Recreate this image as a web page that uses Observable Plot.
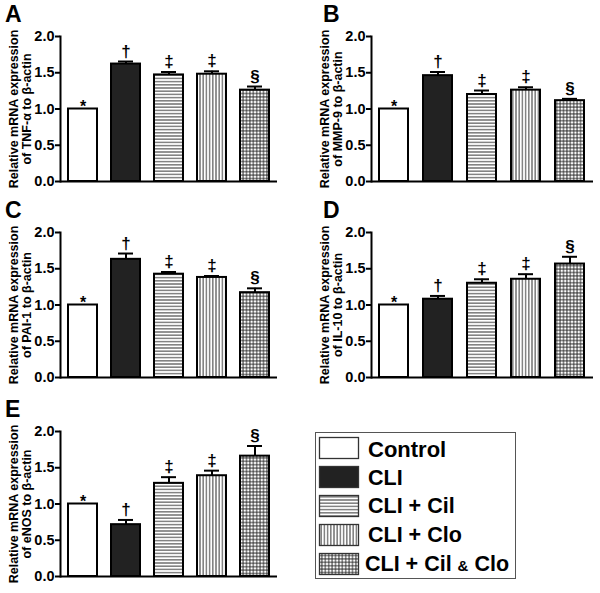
<!DOCTYPE html>
<html>
<head>
<meta charset="utf-8">
<script src="https://cdn.jsdelivr.net/npm/d3@7"></script>
<script src="https://cdn.jsdelivr.net/npm/@observablehq/plot@0.6"></script>
<style>
  html, body { margin: 0; padding: 0; background: white; }
  #root { position: relative; width: 600px; height: 593px; overflow: hidden; font-family: "Liberation Sans", Arial, sans-serif; }
  .panel { position: absolute; }
  .letter { position: absolute; font-weight: bold; font-size: 23px; line-height: 1; }
</style>
</head>
<body>
<div id="root"></div>
<svg width="0" height="0" style="position:absolute">
  <defs>
    <pattern id="ph" width="4" height="3.2" patternUnits="userSpaceOnUse">
      <rect width="4" height="3.2" fill="white"/>
      <line x1="0" y1="1.6" x2="4" y2="1.6" stroke="#222" stroke-width="0.9"/>
    </pattern>
    <pattern id="pv" width="3.2" height="4" patternUnits="userSpaceOnUse">
      <rect width="3.2" height="4" fill="white"/>
      <line x1="1.6" y1="0" x2="1.6" y2="4" stroke="#222" stroke-width="0.9"/>
    </pattern>
    <pattern id="pg" width="3.4" height="3.4" patternUnits="userSpaceOnUse">
      <rect width="3.4" height="3.4" fill="white"/>
      <line x1="1.7" y1="0" x2="1.7" y2="3.4" stroke="#222" stroke-width="0.9"/>
      <line x1="0" y1="1.7" x2="3.4" y2="1.7" stroke="#222" stroke-width="0.9"/>
    </pattern>
  </defs>
</svg>
<script>
// ---- data ----
const groups = ["Control", "CLI", "CLI + Cil", "CLI + Clo", "CLI + Cil & Clo"];
const symbols = ["*", "†", "‡", "‡", "§"];
const yTicks = [0, 0.5, 1.0, 1.5, 2.0];

const tnfMean  = [1.00, 1.62, 1.47, 1.48, 1.26];
const tnfSem   = [0, 0.035, 0.04, 0.04, 0.05];
const mmp9Mean = [1.00, 1.46, 1.20, 1.26, 1.115];
const mmp9Sem  = [0, 0.05, 0.055, 0.04, 0.025];
const pai1Mean = [1.00, 1.63, 1.425, 1.38, 1.17];
const pai1Sem  = [0, 0.08, 0.03, 0.02, 0.06];
const il10Mean = [1.00, 1.08, 1.30, 1.355, 1.565];
const il10Sem  = [0, 0.045, 0.055, 0.07, 0.10];
const enosMean = [1.00, 0.715, 1.285, 1.39, 1.66];
const enosSem  = [0, 0.065, 0.085, 0.07, 0.14];

const panelLetters = ["A", "B", "C", "D", "E"];
const markerNames = ["TNF-α", "MMP-9", "PAI-1", "IL-10", "eNOS"];
const legendLabels = ["Control", "CLI", "CLI + Cil", "CLI + Clo", "CLI + Cil & Clo"];

const fills = ["white", "#222", "url(#ph)", "url(#pv)", "url(#pg)"];

const panels = [
  {mean: tnfMean,  sem: tnfSem,  left: 0,   top: 0,   ml: 60, mr: 23},
  {mean: mmp9Mean, sem: mmp9Sem, left: 300, top: 0,   ml: 71, mr: 7},
  {mean: pai1Mean, sem: pai1Sem, left: 0,   top: 196, ml: 60, mr: 23},
  {mean: il10Mean, sem: il10Sem, left: 300, top: 196, ml: 71, mr: 7},
  {mean: enosMean, sem: enosSem, left: 0,   top: 395, ml: 60, mr: 23}
];

const root = document.getElementById("root");

panels.forEach((p, i) => {
  const data = groups.map((g, j) => ({
    group: g, mean: p.mean[j], sem: p.sem[j], top: p.mean[j] + p.sem[j], sym: symbols[j]
  }));
  const withErr = data.filter(d => d.sem > 0);
  const ylabel = `Relative mRNA expression\nof ${markerNames[i]} to β-actin`;
  const chart = Plot.plot({
    width: 300,
    height: 195,
    marginLeft: p.ml,
    marginRight: p.mr,
    marginTop: 36,
    marginBottom: 14,
    style: {fontFamily: "'Liberation Sans', Arial, sans-serif", fontWeight: "bold", background: "white", overflow: "visible"},
    x: {domain: groups, paddingInner: 0.33, paddingOuter: 0.17, axis: null},
    y: {domain: [0, 2], axis: null},
    color: {domain: groups, range: fills},
    marks: [
      Plot.barY(data, {x: "group", y: "mean", fill: "group", stroke: "black", strokeWidth: 2}),
      Plot.ruleX(withErr, {x: "group", y1: "mean", y2: "top", stroke: "black", strokeWidth: 2}),
      Plot.tickY(withErr, {x: "group", y: "top", insetLeft: 7, insetRight: 7, stroke: "black", strokeWidth: 2}),
      Plot.text(data.filter(d => d.sym !== "*"), {x: "group", y: "top", text: "sym", lineAnchor: "bottom", dy: -5, fontSize: 17, fontWeight: "bold"}),
      Plot.text(data.filter(d => d.sym === "*"), {x: "group", y: "top", text: "sym", lineAnchor: "bottom", dy: 3, fontSize: 16, fontWeight: "bold"}),
      Plot.ruleY([0], {stroke: "black", strokeWidth: 2}),
      Plot.axisY({ticks: yTicks, tickFormat: d3.format(".1f"), tickSize: 5, tickPadding: 1, strokeWidth: 2, fontSize: 14.5, fontWeight: "bold", label: null}),
      Plot.frame({anchor: "left", stroke: "black", strokeWidth: 2}),
      Plot.text([ylabel], {frameAnchor: "left", rotate: -90, dx: -40, fontSize: 12.5, fontWeight: "bold", lineHeight: 1.05, textAnchor: "middle"})
    ]
  });
  const wrap = document.createElement("div");
  wrap.className = "panel";
  wrap.style.left = p.left + "px";
  wrap.style.top = p.top + "px";
  wrap.appendChild(chart);
  root.appendChild(wrap);

  const letter = document.createElement("div");
  letter.className = "letter";
  letter.textContent = panelLetters[i];
  letter.style.left = (p.left + (p.ml === 60 ? 5 : 23)) + "px";
  letter.style.top = (p.top + 3) + "px";
  root.appendChild(letter);
});

// ---- legend ----
const lg = d3.select(root).append("svg")
  .attr("width", 210).attr("height", 152)
  .style("position", "absolute").style("left", "310px").style("top", "428px")
  .style("font-family", "'Liberation Sans', Arial, sans-serif");
lg.append("rect").attr("x", 5.5).attr("y", 4.5).attr("width", 200).attr("height", 146)
  .attr("fill", "white").attr("stroke", "#555").attr("stroke-width", 1);
const rowY = [9, 38, 67, 96, 125];
const baseY = [29, 57, 85, 114, 143];
legendLabels.forEach((lab, j) => {
  lg.append("rect").attr("x", 9.5).attr("y", rowY[j] + 0.5).attr("width", 39).attr("height", 21)
    .attr("fill", fills[j]).attr("stroke", "#333").attr("stroke-width", 1.3);
  const t = lg.append("text").attr("x", j === 4 ? 55 : 58).attr("y", baseY[j])
    .attr("font-size", j === 0 ? 22 : 21.5).attr("font-weight", "bold");
  if (lab.includes("&")) {
    const parts = lab.split("&");
    t.append("tspan").text(parts[0]);
    t.append("tspan").attr("font-size", 15).text("&");
    t.append("tspan").text(parts[1]);
  } else {
    t.text(lab);
  }
});
</script>
</body>
</html>
